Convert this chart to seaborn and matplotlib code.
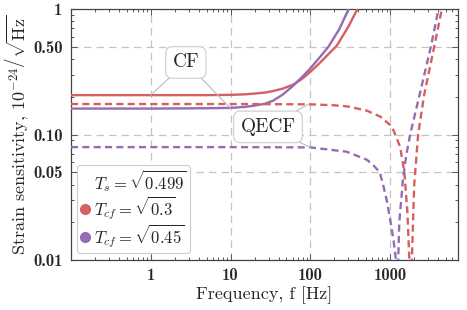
import matplotlib
matplotlib.use("Agg")
import matplotlib.pyplot as plt
from matplotlib.lines import Line2D
from matplotlib.ticker import NullFormatter
import seaborn as sns

# values (frequency in Hz, strain in 1e-24/sqrt(Hz))
cf_red_f = [0.1, 1, 5, 10, 15, 20, 27, 34, 45, 61, 80, 100, 130, 170, 214, 300, 388, 500]
cf_red_s = [0.206, 0.206, 0.206, 0.207, 0.209, 0.212, 0.216, 0.222, 0.232, 0.250, 0.28, 0.316,
            0.37, 0.44, 0.51, 0.725, 1.0, 1.35]

cf_pur_f = [0.1, 1, 5, 10, 15, 20, 27, 34, 45, 61, 80, 100, 130, 168, 230, 302, 400]
cf_pur_s = [0.161, 0.161, 0.162, 0.163, 0.166, 0.170, 0.176, 0.186, 0.208, 0.245, 0.29, 0.337,
            0.41, 0.5, 0.69, 1.0, 1.4]

qe_red_f = [0.1, 10, 100, 200, 300, 509, 750, 1000, 1100, 1330, 1507, 1645, 1740, 1800,
            1870, 2000, 2240, 2660, 3560, 4440, 5200]
qe_red_s = [0.175, 0.175, 0.174, 0.171, 0.167, 0.155, 0.139, 0.119, 0.108, 0.08, 0.05, 0.0235, 0.01, 0.001,
            0.01, 0.04, 0.1, 0.206, 0.5, 1.0, 1.4]

qe_pur_f = [0.1, 10, 100, 285, 509, 615, 740, 822, 905, 1000, 1100, 1180, 1230,
            1260, 1300, 1450, 1600, 1778, 2330, 3230, 4030, 4800]
qe_pur_s = [0.0794, 0.0794, 0.079, 0.073, 0.063, 0.057, 0.05, 0.039, 0.030, 0.021, 0.0145, 0.01, 0.001,
            0.01, 0.02, 0.045, 0.07, 0.1, 0.206, 0.5, 1.0, 1.4]

x_ticks = [1, 10, 100, 1000]
x_labels = ["1", "10", "100", "1000"]
y_ticks = [0.01, 0.05, 0.1, 0.5, 1]
y_labels = ["0.01", "0.05", "0.10", "0.50", "1"]

legend_labels = [r"$T_s=\sqrt{0.499}$", r"$T_{cf}=\sqrt{0.3}$", r"$T_{cf}=\sqrt{0.45}$"]

red = "#d65f5f"
purple = "#956cb4"

sns.set_theme(style="ticks")
plt.rcParams["font.family"] = ["cmr10", "DejaVu Serif"]
plt.rcParams["mathtext.fontset"] = "cm"
plt.rcParams["axes.formatter.use_mathtext"] = True

fig = plt.figure(figsize=(4.67, 3.10), dpi=100)
ax = fig.add_axes([0.152, 0.161, 0.829, 0.81])
ax.set(xscale="log", yscale="log")

dash = (0, (3, 1.8))
sns.lineplot(x=cf_red_f, y=cf_red_s, ax=ax, color=red, lw=1.7, zorder=3)
sns.lineplot(x=cf_pur_f, y=cf_pur_s, ax=ax, color=purple, lw=1.7, zorder=3)
sns.lineplot(x=qe_red_f, y=qe_red_s, ax=ax, color=red, lw=1.7, linestyle=dash, zorder=3)
sns.lineplot(x=qe_pur_f, y=qe_pur_s, ax=ax, color=purple, lw=1.7, linestyle=dash, zorder=3)

ax.set_xlim(0.1, 7100)
ax.set_ylim(0.01, 1)
ax.set_xticks(x_ticks, x_labels, fontfamily="cmb10", fontsize=12)
ax.set_yticks(y_ticks, y_labels, fontfamily="cmb10", fontsize=12)
ax.xaxis.set_minor_formatter(NullFormatter())
ax.yaxis.set_minor_formatter(NullFormatter())
ax.tick_params(which="both", direction="in", top=True, right=True, color="#555555", width=0.7)
ax.tick_params(which="major", length=4, pad=6)
ax.tick_params(which="minor", length=2.5)
for sp in ax.spines.values():
    sp.set_color("#444444")
    sp.set_linewidth(0.9)

ax.grid(True, which="major", ls=(0, (6, 4)), color="#c4c4c4", lw=0.9, zorder=0)

ax.set_xlabel("Frequency, f [Hz]", fontsize=13, labelpad=2)
ax.set_ylabel(r"Strain sensitivity, $10^{-24}\left/\sqrt{\mathrm{Hz}}\right.$", fontsize=13, labelpad=2)

box = dict(boxstyle="round,pad=0.35", fc="white", ec="#cccccc", lw=0.8)
hidden = dict(boxstyle="round,pad=0.35", fc="none", ec="none")
arr = dict(arrowstyle="-", color="#bbbbbb", lw=0.8, shrinkA=0, shrinkB=0)

# CF label with two leader lines
ax.annotate("CF", xy=(1, 0.206), xytext=(2.75, 0.375), fontsize=14, ha="center", va="center",
            bbox=box, arrowprops=arr, zorder=5)
ax.annotate("CF", xy=(10, 0.162), xytext=(2.75, 0.375), fontsize=14, ha="center", va="center",
            color="none", bbox=hidden, arrowprops=arr, zorder=4)
# QECF label
ax.annotate("QECF", xy=(95, 0.175), xytext=(29.4, 0.115), fontsize=14, ha="center", va="center",
            bbox=box, arrowprops=arr, zorder=5)
ax.annotate("QECF", xy=(100, 0.079), xytext=(29.4, 0.115), fontsize=14, ha="center", va="center",
            color="none", bbox=hidden, arrowprops=arr, zorder=4)

handles = [Line2D([], [], linestyle="none"),
           Line2D([], [], linestyle="none", marker="o", color=red, markersize=7),
           Line2D([], [], linestyle="none", marker="o", color=purple, markersize=7)]
leg = ax.legend(handles, legend_labels, loc="lower left", bbox_to_anchor=(0.0155, 0.028),
                borderaxespad=0, fontsize=12, handlelength=0.6, handletextpad=0.2,
                labelspacing=0.0, borderpad=0.2, fancybox=True, framealpha=1,
                edgecolor="#cccccc")
leg.get_frame().set_linewidth(0.8)

fig.savefig("out.png", dpi=100)
